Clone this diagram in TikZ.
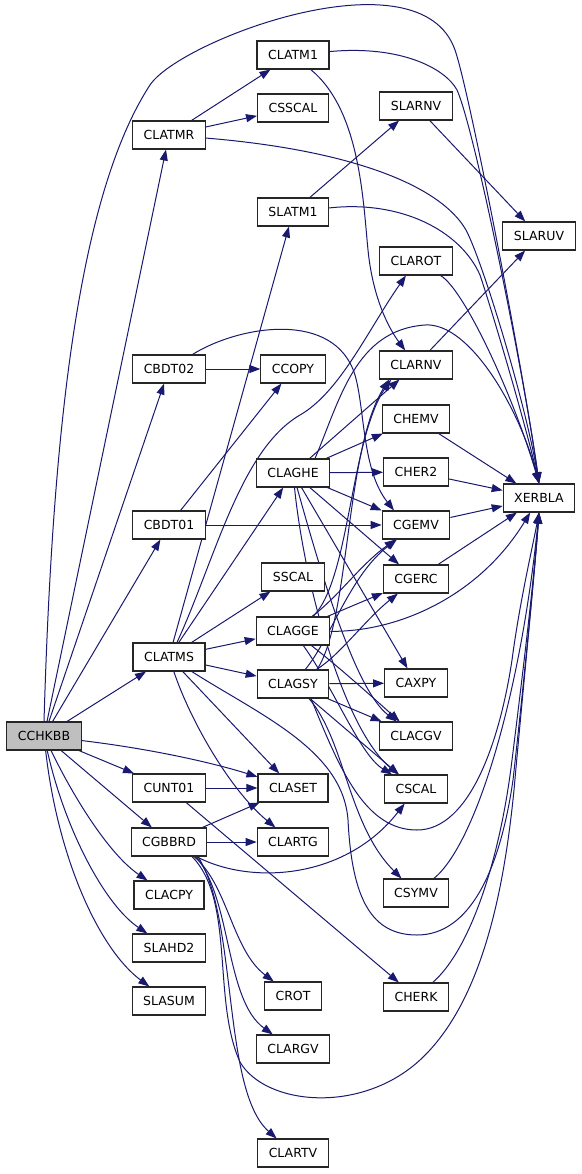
\documentclass[tikz,border=0pt]{standalone}
\usepackage{fontspec}
\setmainfont{DejaVu Sans}
\usetikzlibrary{arrows.meta}
\definecolor{edgeblue}{RGB}{25,25,112}
\pgfdeclarelayer{bg}
\pgfsetlayers{bg,main}
\begin{document}
\begin{tikzpicture}[x=1pt,y=-1pt,
  fn/.style={draw=black!85, line width=1.1pt, fill=white, minimum height=28pt,
    inner xsep=11pt, inner ysep=0pt, font=\fontsize{12.5}{15}\selectfont},
  e/.style={draw=edgeblue, line width=1pt, -{Triangle[length=11pt,width=8pt]}}]
\useasboundingbox (0,0) rectangle (581,1174);

\node[fn, fill=black!25] (cchkbb) at (44,736) {CCHKBB};
\node[fn] (clatmr) at (169,135) {CLATMR};
\node[fn] (clatm1) at (293,55) {CLATM1};
\node[fn] (csscal) at (293,108) {CSSCAL};
\node[fn] (slarnv) at (416,106) {SLARNV};
\node[fn] (slatm1) at (293,212) {SLATM1};
\node[fn] (slaruv) at (539,236) {SLARUV};
\node[fn] (clarot) at (416,261) {CLAROT};
\node[fn] (cbdt02) at (169,369) {CBDT02};
\node[fn] (ccopy) at (293,369) {CCOPY};
\node[fn] (clarnv) at (416,365) {CLARNV};
\node[fn] (chemv) at (416,419) {CHEMV};
\node[fn] (claghe) at (293,473) {CLAGHE};
\node[fn] (cher2) at (416,472) {CHER2};
\node[fn] (xerbla) at (539,498) {XERBLA};
\node[fn] (cbdt01) at (169,525) {CBDT01};
\node[fn] (cgemv) at (416,525) {CGEMV};
\node[fn] (sscal) at (293,577) {SSCAL};
\node[fn] (cgerc) at (416,579) {CGERC};
\node[fn] (clagge) at (293,631) {CLAGGE};
\node[fn] (clatms) at (169,657) {CLATMS};
\node[fn] (clagsy) at (293,684) {CLAGSY};
\node[fn] (caxpy) at (416,683) {CAXPY};
\node[fn] (clacgv) at (416,736) {CLACGV};
\node[fn] (cunt01) at (169,788) {CUNT01};
\node[fn] (claset) at (293,788) {CLASET};
\node[fn] (cscal) at (416,789) {CSCAL};
\node[fn] (cgbbrd) at (169,842) {CGBBRD};
\node[fn] (clartg) at (293,842) {CLARTG};
\node[fn] (csymv) at (416,893) {CSYMV};
\node[fn] (clacpy) at (169,895) {CLACPY};
\node[fn] (slahd2) at (169,948) {SLAHD2};
\node[fn] (slasum) at (169,1001) {SLASUM};
\node[fn] (crot) at (293,996) {CROT};
\node[fn] (cherk) at (416,997) {CHERK};
\node[fn] (clargv) at (293,1049) {CLARGV};
\node[fn] (clartv) at (293,1153) {CLARTV};

\begin{pgfonlayer}{bg}
\fill[white] (0,0) rectangle (581,1174);
% CCHKBB
\draw[e] (cchkbb) -- (clatmr);
\draw[e] (cchkbb.north) .. controls (52,450) and (75,200) .. (150,85) .. controls (180,40) and (420,-50) .. (455,50) .. controls (470,93) and (525,380) .. (xerbla.north);
\draw[e] (cchkbb) -- (cbdt02);
\draw[e] (cchkbb) -- (cbdt01);
\draw[e] (cchkbb) -- (clatms);
\draw[e] (cchkbb) .. controls (160,750) and (220,765) .. (claset);
\draw[e] (cchkbb) -- (cunt01);
\draw[e] (cchkbb) -- (cgbbrd);
\draw[e] (cchkbb) .. controls (75,800) and (110,855) .. (clacpy);
\draw[e] (cchkbb) .. controls (65,830) and (105,905) .. (slahd2);
\draw[e] (cchkbb) .. controls (58,860) and (100,950) .. (slasum);
% CLATMR
\draw[e] (clatmr) -- (clatm1);
\draw[e] (clatmr) -- (csscal);
\draw[e] (clatmr) .. controls (350,150) and (440,185) .. (466,230) .. controls (482,260) and (525,400) .. (xerbla.north);
% CLATM1
\draw[e] (clatm1) .. controls (400,45) and (445,68) .. (457,90) .. controls (475,130) and (525,380) .. (xerbla.north);
\draw[e] (clatm1) .. controls (360,110) and (363,200) .. (368,250) .. controls (373,300) and (390,330) .. (clarnv);
% SLARNV, SLATM1, CLAROT, CLARNV
\draw[e] (slarnv) -- (slaruv);
\draw[e] (slatm1) -- (slarnv);
\draw[e] (slatm1) .. controls (400,200) and (460,230) .. (480,275) .. controls (495,320) and (527,430) .. (xerbla.north);
\draw[e] (clarot) .. controls (465,290) and (515,400) .. (xerbla.north);
\draw[e] (clarnv) -- (slaruv);
% CBDT02, CBDT01
\draw[e] (cbdt02) -- (ccopy);
\draw[e] (cbdt02) .. controls (240,325) and (335,310) .. (355,375) .. controls (365,410) and (362,470) .. ([xshift=-22pt]cgemv.north);
\draw[e] (cbdt01) -- (ccopy);
\draw[e] (cbdt01) -- (cgemv);
% CLATMS
\draw[e] (clatms) -- (slatm1);
\draw[e] ([xshift=8pt]clatms.north) .. controls (215,560) and (240,450) .. (300,415) .. controls (340,392) and (368,330) .. (clarot);
\draw[e] (clatms) -- (claghe);
\draw[e] (clatms) -- (sscal);
\draw[e] (clatms) -- (clagge);
\draw[e] (clatms) -- (clagsy);
\draw[e] (clatms) -- (claset);
\draw[e] (clatms) .. controls (190,720) and (230,790) .. (clartg);
\draw[e] (clatms) .. controls (260,715) and (343,750) .. (348,820) .. controls (352,900) and (372,935) .. (417,935) .. controls (470,935) and (500,870) .. (513,780) .. controls (522,700) and (534,580) .. (xerbla.south);
% CUNT01
\draw[e] (cunt01) -- (claset);
\draw[e] (cunt01) -- (cherk);
% CGBBRD
\draw[e] (cgbbrd) -- (claset);
\draw[e] (cgbbrd) -- (clartg);
\draw[e] (cgbbrd) .. controls (250,885) and (345,880) .. (cscal);
\draw[e] ([xshift=25pt]cgbbrd.south) .. controls (228,885) and (232,950) .. (crot);
\draw[e] ([xshift=27pt]cgbbrd.south) .. controls (232,900) and (225,1000) .. (clargv);
\draw[e] ([xshift=29pt]cgbbrd.south) .. controls (238,920) and (222,1090) .. (clartv);
\draw[e] ([xshift=23pt]cgbbrd.south) .. controls (235,900) and (212,1000) .. (240,1062) .. controls (265,1105) and (360,1115) .. (420,1060) .. controls (485,1000) and (505,880) .. (514,790) .. controls (522,700) and (534,580) .. (xerbla.south);
% CLAGHE
\draw[e] (claghe) -- (clarnv);
\draw[e] ([xshift=22pt]claghe.north) .. controls (340,400) and (355,330) .. (425,325) .. controls (470,322) and (520,410) .. (xerbla.north);
\draw[e] (claghe) -- (chemv);
\draw[e] (claghe) -- (cher2);
\draw[e] (claghe) -- (cgemv);
\draw[e] (claghe) -- (cgerc);
\draw[e] (claghe) -- (caxpy);
\draw[e] (claghe) .. controls (320,570) and (355,690) .. (clacgv);
\draw[e] (claghe) .. controls (305,590) and (345,730) .. (cscal);
% CLAGGE
\draw[e] ([xshift=20pt]clagge.north) .. controls (350,580) and (350,440) .. ([xshift=-25pt]clarnv.south);
\draw[e] (clagge) .. controls (340,595) and (360,565) .. (cgemv);
\draw[e] (clagge) -- (cgerc);
\draw[e] (clagge) .. controls (400,632) and (480,595) .. (xerbla);
\draw[e] (clagge) .. controls (340,668) and (370,695) .. (clacgv);
\draw[e] (clagge) .. controls (335,690) and (360,755) .. (cscal);
% CLAGSY
\draw[e] ([xshift=24pt]clagsy.north) .. controls (350,620) and (345,450) .. ([xshift=-27pt]clarnv.south);
\draw[e] (clagsy) .. controls (330,640) and (350,575) .. (cgemv);
\draw[e] (clagsy) .. controls (340,655) and (365,620) .. (cgerc);
\draw[e] (clagsy) -- (caxpy);
\draw[e] (clagsy) -- (clacgv);
\draw[e] (clagsy) -- (cscal);
\draw[e] ([xshift=16pt]clagsy.south) .. controls (345,740) and (348,825) .. (csymv);
\draw[e] ([xshift=18pt]clagsy.south) .. controls (340,770) and (365,830) .. (417,830) .. controls (470,830) and (500,740) .. (512,660) .. controls (520,600) and (532,550) .. (xerbla.south);
% leaves to XERBLA
\draw[e] (chemv) -- (xerbla);
\draw[e] (cher2) -- (xerbla);
\draw[e] (cgemv) -- (xerbla);
\draw[e] (cgerc) -- (xerbla);
\draw[e] (csymv) .. controls (475,845) and (520,700) .. (xerbla.south);
\draw[e] (cherk) .. controls (470,950) and (500,860) .. (512,760) .. controls (522,680) and (534,580) .. (xerbla.south);
\end{pgfonlayer}
\end{tikzpicture}
\end{document}
